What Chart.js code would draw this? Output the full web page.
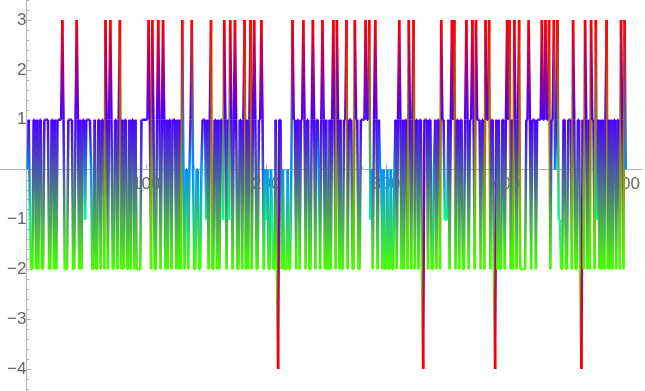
<!DOCTYPE html>
<html>
<head>
<meta charset="utf-8">
<script src="https://cdn.jsdelivr.net/npm/chart.js@4.4.1/dist/chart.umd.min.js"></script>
<style>
  body { margin: 0; background: #fff; }
  canvas { display: block; }
</style>
</head>
<body>
<canvas id="chart" width="645" height="391"></canvas>
<script>
// values, 100 per block (x = 1..500)
const values1 = [
  0, 1, -1, -2, -2, 1, 1, -2, 1, -2,
  1, 1, -2, -2, 1, 1, 1, 1, -2, -2,
  1, 1, -2, 1, -2, 1, 1, 1, 1, 3,
  1, -2, -2, -2, 1, 1, 1, 1, -2, -2,
  1, 3, 1, -2, 1, -2, 1, 1, -1, 1,
  1, 1, 1, 0, -2, -2, 1, -2, -2, 1,
  1, -2, 1, 1, -2, 3, 1, -2, 1, 3,
  1, -2, -2, 1, 1, -2, 1, 3, -2, 1,
  -2, 1, 1, -2, -2, 1, -2, 1, 1, -2,
  1, -2, -2, -2, -2, 1, 1, 1, 1, 1
];
const values2 = [
  1, 3, 1, -2, 3, 1, -2, -2, 1, 3,
  1, -2, 1, 3, 1, -2, 1, -2, 1, 1,
  -2, 1, 1, 1, -2, 1, -2, 1, -2, 3,
  0, -2, 0, 0, -2, 0, 1, 3, 0, -2,
  -2, 0, 0, -2, -2, 0, 1, 1, 1, -1,
  1, -2, 1, 3, -2, -2, 1, 1, -2, 1,
  -2, 1, 1, -1, 3, 1, -2, 1, -1, 3,
  1, -2, 1, 3, 1, -2, -2, 1, 1, -2,
  1, 3, -2, 1, -2, 1, 3, -2, 1, 3,
  1, -2, -2, 1, 1, 3, 1, -2, 0, -1
];
const values3 = [
  0, -2, -2, 0, -1, -2, -2, 1, -2, -4,
  1, 1, -2, 0, -2, -2, -2, 0, -2, -2,
  0, 3, 1, 1, -2, 1, 1, -2, 1, 1,
  3, 1, -2, 1, 1, -2, -2, 1, 3, 1,
  -2, 1, 1, 0, -2, 1, 3, 1, -2, 1,
  -2, -2, 1, -2, 1, 3, 1, -2, 3, 1,
  -2, 1, -2, -2, 1, 1, 3, -2, 1, 1,
  1, -2, -2, 3, 1, 1, -2, -2, 1, 1,
  1, 1, 3, 1, 1, 3, -1, 0, -2, 1,
  3, 1, -2, 1, 0, 0, -2, 0, -2, -2
];
const values4 = [
  0, -2, -2, 0, -2, -2, 0, 1, -2, 1,
  3, 1, -2, 1, -2, 1, 1, -2, 3, 1,
  -2, 1, 3, -2, 1, 1, -2, 1, 1, -2,
  -4, 1, 1, 1, -2, 1, 1, -2, -2, 0,
  1, -2, 1, 1, -2, 3, 1, 1, -1, -1,
  -1, 1, -2, 1, 3, 1, 3, -2, 1, 1,
  -2, 1, 1, -2, -2, 1, 3, 1, -2, 1,
  1, 3, 1, -2, 3, 1, 1, 1, -2, 1,
  1, -2, 3, 1, 1, 3, -2, 1, 1, -2,
  -4, 1, -2, 1, -2, -2, 1, 1, -2, 1
];
const values5 = [
  3, 1, 3, -2, 1, -2, 3, 1, -2, 1,
  3, -2, -2, -2, -2, -2, 1, 1, 3, 1,
  -2, 1, 1, 1, -2, 1, 1, 1, 1, 3,
  1, 1, 3, 1, 1, 3, -2, 1, 1, 3,
  0, 1, 3, -1, -1, -2, -2, 1, 1, -2,
  -2, 1, 1, 1, -2, 3, 1, -2, -2, 1,
  1, -2, -4, 1, -2, 3, 1, -2, 1, -2,
  3, 1, 1, -2, 3, -1, 1, -2, 1, -2,
  1, -2, 1, 3, -2, 1, -2, 1, -2, 1,
  1, -2, 1, 1, -2, 3, 1, -2, 3, 0
];
const xTicks = [100, 200, 300, 400, 500];
const yTicks = [-4, -3, -2, -1, 1, 2, 3];

const values = [].concat(values1, values2, values3, values4, values5);
const vMin = Math.min(...values);
const vMax = Math.max(...values);

const axisColor = '#b4b4b4';
const labelColor = '#666666';

let ctx;

// Mathematica style Hue[] colouring, scaled over the data range
const hue = function (v) {
  return `hsl(${((v - vMin) / (vMax - vMin)) * 360}, 100%, 50%)`;
};

const segmentColor = function (c) {
  const g = ctx.createLinearGradient(c.p0.x, c.p0.y, c.p1.x, c.p1.y);
  g.addColorStop(0, hue(values[c.p0DataIndex]));
  g.addColorStop(1, hue(values[c.p1DataIndex]));
  return g;
};

const minus = function (v) {
  return String(v).replace('-', '\u2212');
};

// small inward ticks like the original axes
const axisTicks = {
  id: 'axisTicks',
  beforeDatasetsDraw(chart) {
    const { x, y } = chart.scales;
    const c = chart.ctx;
    const x0 = x.getPixelForValue(0);
    const y0 = y.getPixelForValue(0);
    c.save();
    c.strokeStyle = axisColor;
    c.lineWidth = 1;
    c.beginPath();
    for (let k = -22; k <= 17; k++) {
      if (k === 0) continue;
      const py = Math.round(y.getPixelForValue(k / 5)) + 0.5;
      const len = k % 5 === 0 ? 5 : 3;
      c.moveTo(x0, py);
      c.lineTo(x0 + len, py);
    }
    for (let v = 20; v <= 500; v += 20) {
      const px = Math.round(x.getPixelForValue(v)) + 0.5;
      const len = v % 100 === 0 ? 5 : 3;
      c.moveTo(px, y0);
      c.lineTo(px, y0 - len);
    }
    c.stroke();
    c.restore();
  }
};

const drawChart = function () {
  const canvas = document.getElementById('chart');
  ctx = canvas.getContext('2d');
  const points = values.map((v, k) => ({ x: k + 1, y: v }));

  new Chart(ctx, {
    type: 'line',
    data: {
      datasets: [{
        data: points,
        borderWidth: 2.5,
        pointRadius: 0,
        tension: 0,
        segment: { borderColor: segmentColor }
      }]
    },
    options: {
      responsive: false,
      animation: false,
      devicePixelRatio: 1,
      layout: { padding: 0 },
      plugins: { legend: { display: false }, tooltip: { enabled: false } },
      scales: {
        x: {
          type: 'linear',
          position: { y: 0 },
          min: -22,
          max: 513.3,
          afterBuildTicks: function (s) { s.ticks = xTicks.map(v => ({ value: v })); },
          grid: { display: true, drawOnChartArea: false, drawTicks: false },
          border: { color: axisColor, width: 1 },
          ticks: {
            color: labelColor,
            padding: 5,
            maxRotation: 0,
            font: { family: 'Liberation Sans', size: 17 }
          }
        },
        y: {
          type: 'linear',
          position: { x: 0 },
          min: -4.441,
          max: 3.401,
          afterBuildTicks: function (s) { s.ticks = yTicks.map(v => ({ value: v })); },
          grid: {
            display: true,
            drawOnChartArea: false,
            drawTicks: true,
            tickLength: 5,
            tickColor: 'rgba(0,0,0,0)'
          },
          border: { color: axisColor, width: 1 },
          ticks: {
            color: labelColor,
            padding: 0,
            // tiny line height keeps the labels from shrinking the plot area
            font: { family: 'Liberation Sans', size: 17, lineHeight: 0.01 },
            callback: function (v) { return minus(v); }
          }
        }
      }
    },
    plugins: [axisTicks]
  });
};

document.addEventListener('DOMContentLoaded', function () {
  drawChart();
});
</script>
</body>
</html>
